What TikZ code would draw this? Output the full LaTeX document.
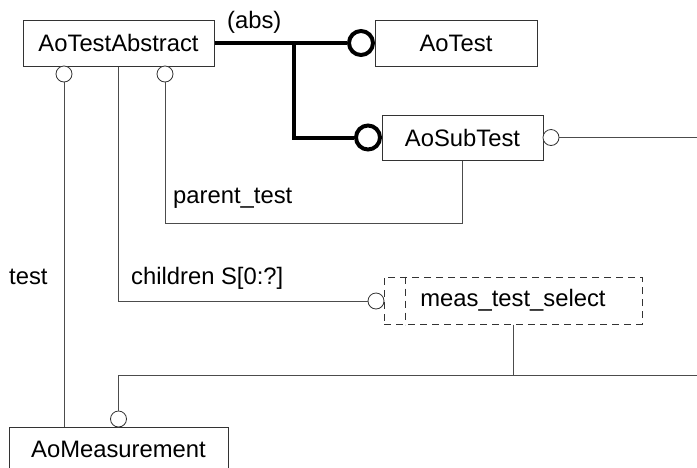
\documentclass[tikz,border=0pt]{standalone}
\usepackage{fontspec}
\setmainfont{Liberation Sans}
\usepackage{tikz}
\usetikzlibrary{arrows.meta,positioning,calc}

\begin{document}
\begin{tikzpicture}[x=1pt, y=-1pt,
  entity/.style={draw=black!80, line width=1pt, minimum height=46pt, inner sep=0pt,
    font=\fontsize{23.8}{28}\selectfont},
  selbox/.style={draw=black!80, line width=1pt, dash pattern=on 7pt off 5pt,
    minimum height=47pt, inner sep=0pt, font=\fontsize{23.8}{28}\selectfont},
  oc/.style={circle, draw=black!80, line width=0.8pt, fill=white, minimum size=16pt, inner sep=0pt},
  supoc/.style={circle, draw=black, line width=4pt, fill=white, minimum size=24pt, inner sep=0pt},
  link/.style={draw=black!70, line width=1pt},
  sublink/.style={draw=black, line width=4pt},
  lbl/.style={anchor=base west, inner sep=0pt, font=\fontsize{23.8}{28}\selectfont},
]
  \clip (0,0) rectangle (697,467);

  % --- entities ------------------------------------------------------
  \node[entity, minimum width=191pt] (abs)  at (118.5,43)  {AoTestAbstract};
  \node[entity, minimum width=162pt] (test) at (456,43)    {AoTest};
  \node[entity, minimum width=161pt, minimum height=45pt] (sub) at (462.5,137.5) {AoSubTest};
  \node[entity, minimum width=219pt, minimum height=45pt] (meas) at (118.5,449.5) {AoMeasurement};
  \node[selbox, minimum width=258pt] (sel) at (513,300.5) {meas\_test\_select};
  \draw[draw=black!80, line width=1pt, dash pattern=on 7pt off 5pt]
    ([xshift=22pt]sel.north west) -- ([xshift=22pt]sel.south west);

  % --- subtype tree ----------------------------------------------------
  \node[supoc] (ctest) at (361,43)    {};
  \node[supoc] (csub)  at (368,137.5) {};
  \coordinate (fork) at (294,43);
  \draw[sublink] (abs.east) -- (fork) -- (ctest.west);
  \draw[sublink] (fork) |- (csub.west);
  \node[lbl] (abslbl) at (227,28) {(abs)};

  % --- attributes ----------------------------------------------------
  \node[oc] (ctst)  at (64,74)     {};
  \node[oc] (cpar)  at (165,74)    {};
  \node[oc] (cchi)  at (376,301)   {};
  \node[oc] (cmeas) at (118.5,419) {};
  \node[oc] (csubr) at (551,137.5) {};

  \draw[link] (ctst.south) -- (ctst.south |- meas.north);
  \coordinate (parbend) at (165,223);
  \draw[link] (cpar.south) -- (parbend) -| (sub.south);
  \draw[link] (abs.south) |- (cchi.west);
  \coordinate (selend) at (697,375);
  \draw[link] (cmeas.north) |- (selend);
  \draw[link] (sel.south) -- (sel.south |- selend);
  \coordinate (subend) at (697,137.5);
  \draw[link] (csubr.east) -- (subend);

  \node[lbl] (partlbl) at (173,203) {parent\_test};
  \node[lbl] (tstlbl)  at (9,284)   {test};
  \node[lbl] (chilbl)  at (131,284) {children S[0:?]};
\end{tikzpicture}
\end{document}
